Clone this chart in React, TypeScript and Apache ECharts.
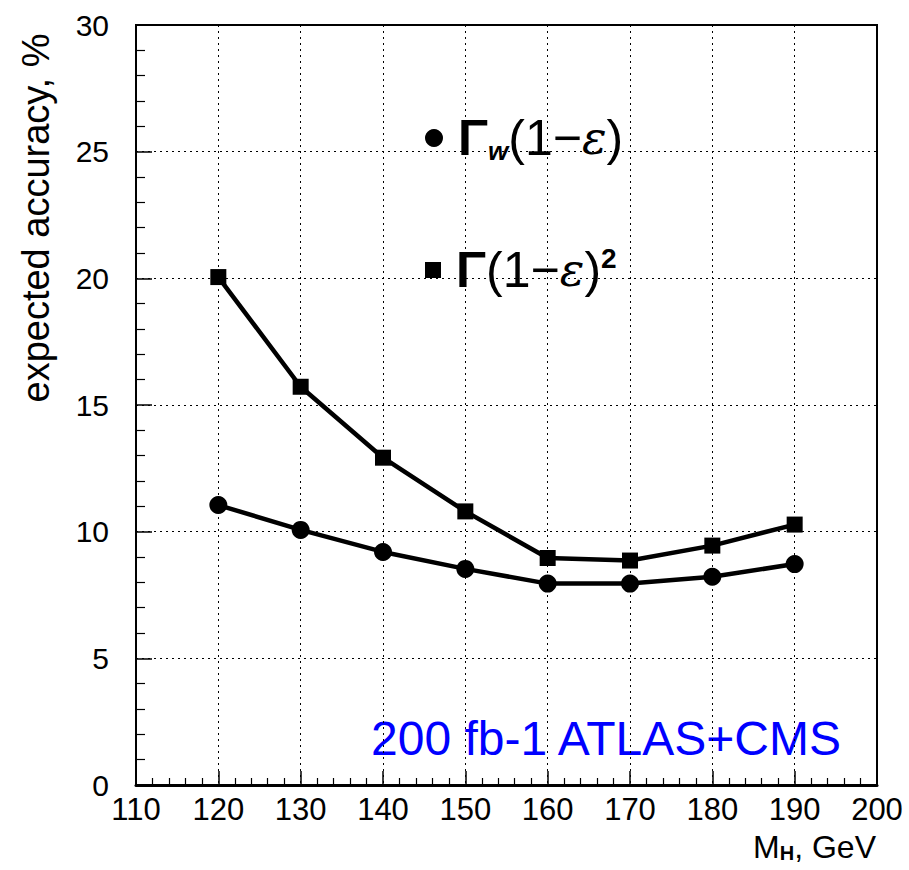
import React, { useEffect, useRef } from "react";
import * as echarts from "echarts";

const massValues = [120, 130, 140, 150, 160, 170, 180, 190];
const gammaW = [11.05, 10.07, 9.2, 8.53, 7.95, 7.95, 8.22, 8.72];
const gammaSq = [20.05, 15.72, 12.92, 10.8, 8.96, 8.86, 9.45, 10.28];
const legendNames = ["GW", "G2"];
const yTitle = "expected accuracy, %";
const annotation = "200 fb-1 ATLAS+CMS";

const FONT = "'Liberation Sans', Arial, Helvetica, sans-serif";

export default function App() {
  const ref = useRef<HTMLDivElement>(null);
  useEffect(() => {
    document.body.style.margin = "0";
    const chart = echarts.init(ref.current!, null, { renderer: "svg" });
    const legendRich = {
      G: { fontFamily: FONT, fontSize: 50, fontWeight: "bold", color: "#000", lineHeight: 60 },
      g: { fontFamily: FONT, fontSize: 50, color: "#000", lineHeight: 60 },
      s: { fontFamily: FONT, fontSize: 26, fontWeight: "bold", fontStyle: "italic", color: "#000", verticalAlign: "bottom", lineHeight: 60, padding: [0, 0, 4, 0] },
      e: { fontFamily: "'DejaVu Serif', serif", fontSize: 46, fontStyle: "italic", color: "#000", lineHeight: 60 },
      p: { fontFamily: FONT, fontSize: 28, fontWeight: "bold", color: "#000", verticalAlign: "top", lineHeight: 28, padding: [4, 0, 0, 0] },
    };
    const legendCommon = {
      show: true,
      orient: "vertical",
      left: 420,
      itemWidth: 18,
      itemHeight: 18,
      textStyle: { rich: legendRich, padding: [0, 0, 0, 10] },
      itemStyle: { color: "#000" },
      selectedMode: false,
    };
    chart.setOption({
      animation: false,
      backgroundColor: "#fff",
      grid: {
        left: 136,
        right: 32,
        top: 25,
        bottom: 85,
        show: true,
        borderColor: "#000",
        borderWidth: 2,
        containLabel: false,
      },
      legend: [
        {
          ...legendCommon,
          top: 108,
          data: [{ name: legendNames[0], icon: "circle" }],
          formatter: () => "{G|Γ}{s|w}{g|(1−}{e|ε}{g|)}",
        },
        {
          ...legendCommon,
          top: 235,
          itemWidth: 16,
          itemHeight: 16,
          data: [{ name: legendNames[1], icon: "rect" }],
          formatter: () => "{G|Γ}{g|(1−}{e|ε}{g|)}{p|2}",
        },
      ],
      xAxis: {
        type: "value",
        min: 110,
        max: 200,
        interval: 10,
        axisLine: { show: true, lineStyle: { color: "#000", width: 3 } },
        axisTick: { show: true, inside: true, length: 14, lineStyle: { color: "#000", width: 1.5 } },
        minorTick: { show: true, splitNumber: 5, length: 7, lineStyle: { color: "#000", width: 1.2 } },
        splitLine: { show: true, lineStyle: { color: "#000", width: 1, type: [2, 4] } },
        axisLabel: { fontFamily: FONT, fontSize: 31, color: "#000", margin: 9 },
      },
      yAxis: {
        type: "value",
        min: 0,
        max: 30,
        interval: 5,
        axisLine: { show: true, lineStyle: { color: "#000", width: 2 } },
        axisTick: { show: true, inside: true, length: 16, lineStyle: { color: "#000", width: 1.5 } },
        minorTick: { show: true, splitNumber: 5, length: 9, lineStyle: { color: "#000", width: 1.2 } },
        splitLine: { show: true, lineStyle: { color: "#000", width: 1, type: [2, 4] } },
        axisLabel: { fontFamily: FONT, fontSize: 30, color: "#000", margin: 27 },
      },
      graphic: [
        {
          type: "text",
          x: 36,
          y: 218,
          rotation: Math.PI / 2,
          style: {
            text: yTitle,
            fontFamily: FONT,
            fontSize: 38,
            fill: "#000",
            align: "center",
            verticalAlign: "middle",
          },
        },
        {
          type: "text",
          x: 876,
          y: 831,
          style: {
            text: "{m|M}{h|H}{m|, GeV}",
            align: "right",
            verticalAlign: "top",
            rich: {
              m: { fontFamily: FONT, fontSize: 32, fill: "#000", color: "#000" },
              h: { fontFamily: FONT, fontSize: 20, fontWeight: "bold", fill: "#000", color: "#000", verticalAlign: "bottom" },
            },
          },
        },
        {
          type: "text",
          x: 371,
          y: 738,
          style: {
            text: annotation,
            fontFamily: FONT,
            fontSize: 48,
            fill: "#0000ff",
            align: "left",
            verticalAlign: "middle",
          },
        },
      ],
      series: [
        {
          name: legendNames[0],
          type: "line",
          data: massValues.map((m, i) => [m, gammaW[i]]),
          symbol: "circle",
          symbolSize: 18,
          lineStyle: { color: "#000", width: 4.5 },
          itemStyle: { color: "#000" },
        },
        {
          name: legendNames[1],
          type: "line",
          data: massValues.map((m, i) => [m, gammaSq[i]]),
          symbol: "rect",
          symbolSize: 16,
          lineStyle: { color: "#000", width: 4.5 },
          itemStyle: { color: "#000" },
        },
      ],
    });
    return () => chart.dispose();
  }, []);
  return (
    <div
      ref={ref}
      style={{ position: "absolute", left: 0, top: 0, width: 909, height: 870 }}
    />
  );
}
